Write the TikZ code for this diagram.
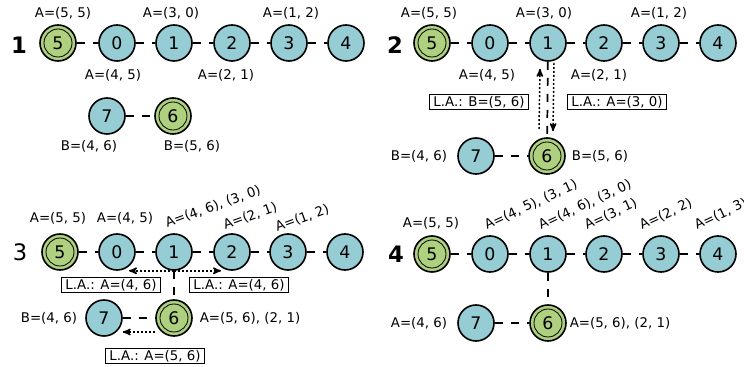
\documentclass[tikz,border=0pt]{standalone}
\usepackage{fontspec}
\setmainfont{DejaVu Sans}
\usepackage{tikz}
\usetikzlibrary{arrows,positioning,calc}
\definecolor{nodeblue}{RGB}{150,204,211}
\definecolor{nodegreen}{RGB}{174,208,127}

\begin{document}
\begin{tikzpicture}[x=0.75pt,y=-0.75pt,
	state/.style={circle, draw, line width=1.2pt, fill=nodeblue, minimum size=27pt, inner sep=0pt, font=\fontsize{13}{15}\selectfont},
	root/.style={state, fill=nodegreen, path picture={\draw[line width=0.6pt] (path picture bounding box.center) circle[radius=10.5pt];}},
	link/.style={line width=1.3pt, dash pattern=on 6pt off 6pt},
	look/.style={->, >=stealth', line width=1.1pt, dash pattern=on 1.5pt off 1.5pt},
	labox/.style={draw, line width=0.6pt, inner xsep=3pt, inner ysep=1.3pt},
	num/.style={font=\fontsize{17}{20}\selectfont\bfseries}]
			\useasboundingbox (0,0) rectangle (744,367);
			
			% step 1
			\node[num] (N1) at (19,45) {1};
			\node[root] (A5) at (58,43) {5};
			\node[state] (A0) at (117,43) {0};
			\node[state] (A1) at (174,43) {1};
			\node[state] (A2) at (232,43) {2};
			\node[state] (A3) at (289,43) {3};
			\node[state] (A4) at (346,43) {4};
			\node[state] (A7) at (107,116) {7};
			\node[root] (A6) at (173,116) {6};
			\node (La5) at (63,13) {A=(5, 5)};
			\node (La1) at (171,13) {A=(3, 0)};
			\node (La3) at (291,13) {A=(1, 2)};
			\node (La0) at (113,75) {A=(4, 5)};
			\node (La2) at (226,75) {A=(2, 1)};
			\node (La7) at (89,146) {B=(4, 6)};
			\node (La6) at (192,146) {B=(5, 6)};
			
			\path[link] (A5) edge (A0) (A0) edge (A1) (A1) edge (A2) (A2) edge (A3) (A3) edge (A4);
			\path[link] (A7) edge (A6);
			
			% step 2
			\node[num] (N2) at (395,45) {2};
			\node[root] (B5) at (432,43) {5};
			\node[state] (B0) at (490,43) {0};
			\node[state] (B1) at (548,43) {1};
			\node[state] (B2) at (604,43) {2};
			\node[state] (B3) at (661,43) {3};
			\node[state] (B4) at (718,43) {4};
			\node[state] (B7) at (476,156) {7};
			\node[root] (B6) at (547,156) {6};
			\node (Lb5) at (429,13) {A=(5, 5)};
			\node (Lb1) at (544,13) {A=(3, 0)};
			\node (Lb3) at (659,13) {A=(1, 2)};
			\node (Lb0) at (487,75) {A=(4, 5)};
			\node (Lb2) at (599,75) {A=(2, 1)};
			\node (Lb7) at (419,156) {B=(4, 6)};
			\node (Lb6) at (600,156) {B=(5, 6)};
			\node[labox] (Bup) at (479,102) {L.A.: B=(5, 6)};
			\node[labox] (Bdown) at (617,102) {L.A.: A=(3, 0)};
			
			\path[link] (B5) edge (B0) (B0) edge (B1) (B1) edge (B2) (B2) edge (B3) (B3) edge (B4);
			\path[link] (B7) edge (B6) (B1) edge (B6);
			\draw[look] ([shift={(-8,-8)}]B6.north) -- ([shift={(-8,7)}]B1.south);
			\draw[look] ([shift={(6,1)}]B1.south) -- ([shift={(6,-6)}]B6.north);
			
			% step 3
			\node (N3) at (20,252) {\fontsize{17}{20}\selectfont 3};
			\node[root] (C5) at (60,252) {5};
			\node[state] (C0) at (117,252) {0};
			\node[state] (C1) at (174,252) {1};
			\node[state] (C2) at (232,252) {2};
			\node[state] (C3) at (288,252) {3};
			\node[state] (C4) at (345,252) {4};
			\node[state] (C7) at (104,318) {7};
			\node[root] (C6) at (174,318) {6};
			\node (Lc5) at (58,218) {A=(5, 5)};
			\node (Lc0) at (125,218) {A=(4, 5)};
			\node[anchor=base west, inner sep=0pt, rotate=20] (Lc1) at (167,228) {A=(4, 6), (3, 0)};
			\node[anchor=base west, inner sep=0pt, rotate=20] (Lc2) at (225,230) {A=(2, 1)};
			\node[anchor=base west, inner sep=0pt, rotate=20] (Lc3) at (277,232) {A=(1, 2)};
			\node (Lc7) at (49,318) {B=(4, 6)};
			\node (Lc6) at (250,318) {A=(5, 6), (2, 1)};
			\node[labox] (Cleft) at (111,285) {L.A.: A=(4, 6)};
			\node[labox] (Cright) at (239,285) {L.A.: A=(4, 6)};
			\node[labox] (Clow) at (155,356) {L.A.: A=(5, 6)};
			
			\path[link] (C5) edge (C0) (C0) edge (C1) (C1) edge (C2) (C2) edge (C3) (C3) edge (C4);
			\path[link] (C7) edge (C6) (C1) edge (C6);
			\draw[look] (C1.south) -- ([shift={(12,0)}]C0.south);
			\draw[look] (C1.south) -- ([shift={(-11,0)}]C2.south);
			\draw[look] ([shift={(0,14)}]C6.west) -- ([shift={(0,14)}]C7.east);
			
			% step 4
			\node[num] (N4) at (396,254) {4};
			\node[root] (D5) at (432,254) {5};
			\node[state] (D0) at (490,254) {0};
			\node[state] (D1) at (548,254) {1};
			\node[state] (D2) at (604,254) {2};
			\node[state] (D3) at (661,254) {3};
			\node[state] (D4) at (718,254) {4};
			\node[state] (D7) at (476,323) {7};
			\node[root] (D6) at (548,323) {6};
			\node (Ld5) at (431,223) {A=(5, 5)};
			\node[anchor=base west, inner sep=0pt, rotate=25] (Ld0) at (487,230) {A=(4, 5), (3, 1)};
			\node[anchor=base west, inner sep=0pt, rotate=25] (Ld1) at (541,230) {A=(4, 6), (3, 0)};
			\node[anchor=base west, inner sep=0pt, rotate=25] (Ld2) at (587,230) {A=(3, 1)};
			\node[anchor=base west, inner sep=0pt, rotate=25] (Ld3) at (642,230) {A=(2, 2)};
			\node[anchor=base west, inner sep=0pt, rotate=25] (Ld4) at (697,230) {A=(1, 3)};
			\node (Ld7) at (419,323) {A=(4, 6)};
			\node (Ld6) at (620,323) {A=(5, 6), (2, 1)};
			
			\path[link] (D5) edge (D0) (D0) edge (D1) (D1) edge (D2) (D2) edge (D3) (D3) edge (D4);
			\path[link] (D7) edge (D6) (D1) edge (D6);
		\end{tikzpicture}
\end{document}
